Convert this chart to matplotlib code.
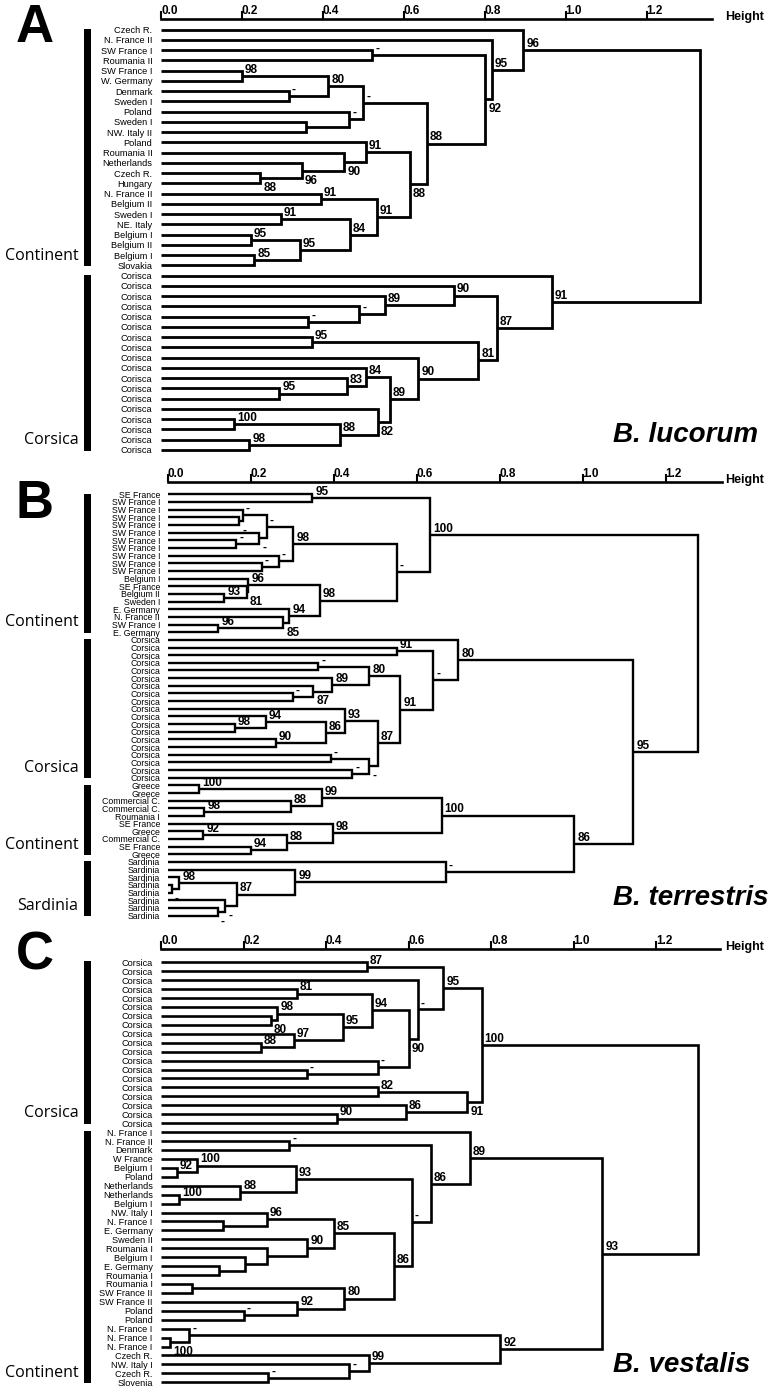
import matplotlib
matplotlib.use("Agg")
import matplotlib.pyplot as plt
from matplotlib.transforms import offset_copy, blended_transform_factory
from matplotlib.patches import Rectangle

plt.rcParams['font.family'] = ['Liberation Sans', 'DejaVu Sans']

# ---------------------------------------------------------------- data
# merge children: leaf index (< 100) or 100 + k for merge number k
TICKS = [0.0, 0.2, 0.4, 0.6, 0.8, 1.0, 1.2]
TICK_LABELS = ["0.0", "0.2", "0.4", "0.6", "0.8", "1.0", "1.2"]

# ---- Panel A : B. lucorum
A_leaves = ["Czech R.", "N. France II", "SW France I", "Roumania II", "SW France I",
            "W. Germany", "Denmark", "Sweden I", "Poland", "Sweden I", "NW. Italy II",
            "Poland", "Roumania II", "Netherlands", "Czech R.", "Hungary", "N. France II",
            "Belgium II", "Sweden I", "NE. Italy", "Belgium I", "Belgium II", "Belgium I",
            "Slovakia"] + ["Corisca"] * 18
A_left = [4, 6, 100, 9, 8, 102, 2, 14, 13, 12, 11, 16, 18, 20, 22, 113, 112, 111, 110,
          105, 106, 1, 0, 28, 27, 26, 25, 30, 35, 34, 33, 38, 40, 131, 37, 130, 32, 127,
          126, 24, 122]
A_right = [5, 7, 101, 10, 103, 104, 3, 15, 107, 108, 109, 17, 19, 21, 23, 114, 115, 116,
           117, 118, 119, 120, 121, 29, 123, 124, 125, 31, 36, 128, 129, 39, 41, 132, 133,
           134, 135, 136, 137, 138, 139]
A_height = [0.199, 0.316, 0.413, 0.358, 0.465, 0.500, 0.522, 0.245, 0.348, 0.453, 0.506,
            0.395, 0.296, 0.222, 0.230, 0.343, 0.467, 0.533, 0.615, 0.657, 0.801, 0.817,
            0.895, 0.364, 0.490, 0.553, 0.724, 0.372, 0.292, 0.459, 0.506, 0.181, 0.218,
            0.442, 0.535, 0.566, 0.636, 0.784, 0.830, 0.965, 1.332]
A_support = ["98", "-", "80", "", "-", "-", "-", "88", "96", "90", "91", "91", "91", "95",
             "85", "95", "84", "91", "88", "88", "92", "95", "96", "-", "-", "89", "90",
             "95", "95", "83", "84", "100", "98", "88", "82", "89", "90", "81", "87", "91", ""]
A_groups = ["Continent", "Corsica"]
A_group_start = [0, 24]
A_group_end = [23, 41]

# ---- Panel B : B. terrestris
B_leaves = (["SE France"] + ["SW France I"] * 10 +
            ["Belgium I", "SE France", "Belgium II", "Sweden I", "E. Germany",
             "N. France II", "SW France I", "E. Germany"] + ["Corsica"] * 19 +
            ["Greece", "Greece", "Commercial C.", "Commercial C.", "Roumania I",
             "SE France", "Greece", "Commercial C.", "SE France", "Greece"] +
            ["Sardinia"] * 8)
B_left = [0, 3, 2, 6, 5, 102, 9, 8, 105, 13, 12, 11, 17, 16, 15, 111, 108, 100, 20, 22,
          26, 25, 24, 119, 30, 29, 32, 125, 28, 34, 36, 129, 128, 123, 118, 19, 38, 41,
          40, 136, 44, 46, 140, 43, 139, 51, 50, 54, 53, 146, 49, 48, 144, 135, 117]
B_right = [1, 4, 101, 7, 103, 104, 10, 106, 107, 14, 109, 110, 18, 112, 113, 114, 115,
           116, 21, 23, 27, 120, 121, 122, 31, 124, 33, 126, 127, 35, 37, 130, 131, 132,
           133, 134, 39, 42, 137, 138, 45, 47, 141, 142, 143, 52, 145, 55, 147, 148, 149,
           150, 151, 152, 153]
B_height = [0.348, 0.173, 0.181, 0.165, 0.221, 0.239, 0.227, 0.267, 0.303, 0.136, 0.190,
            0.194, 0.122, 0.279, 0.293, 0.367, 0.552, 0.632, 0.552, 0.363, 0.301, 0.351,
            0.397, 0.486, 0.162, 0.236, 0.261, 0.381, 0.427, 0.393, 0.445, 0.486, 0.506,
            0.560, 0.640, 0.700, 0.075, 0.088, 0.297, 0.371, 0.086, 0.200, 0.287, 0.398,
            0.660, 0.010, 0.028, 0.121, 0.139, 0.166, 0.307, 0.670, 0.980, 1.122, 1.279]
B_support = ["95", "-", "-", "-", "-", "-", "-", "-", "98", "93", "81", "96", "96", "85",
             "94", "98", "-", "100", "91", "-", "-", "87", "89", "80", "98", "94", "90",
             "86", "93", "-", "-", "-", "87", "91", "-", "80", "100", "98", "88", "99",
             "92", "94", "88", "98", "100", "-", "98", "-", "-", "87", "99", "-", "86",
             "95", ""]
B_groups = ["Continent", "Corsica", "Continent", "Sardinia"]
B_group_start = [0, 19, 38, 48]
B_group_end = [18, 37, 47, 55]

# ---- Panel C : B. vestalis
C_leaves = ["Corsica"] * 19 + [
    "N. France I", "N. France II", "Denmark", "W France", "Belgium I", "Poland",
    "Netherlands", "Netherlands", "Belgium I", "NW. Italy I", "N. France I", "E. Germany",
    "Sweden II", "Roumania I", "Belgium I", "E. Germany", "Roumania I", "Roumania I",
    "SW France II", "SW France II", "Poland", "Poland", "N. France I", "N. France I",
    "N. France I", "Czech R.", "NW. Italy I", "Czech R.", "Slovenia"]
C_left = [0, 3, 6, 5, 9, 8, 103, 101, 12, 11, 107, 2, 100, 14, 17, 16, 113, 112, 20, 23,
          22, 26, 25, 120, 29, 28, 34, 33, 32, 31, 125, 36, 39, 38, 131, 130, 123, 118,
          19, 42, 41, 46, 45, 44, 140, 138, 117]
C_right = [1, 4, 7, 102, 10, 104, 105, 106, 13, 108, 109, 110, 111, 15, 18, 114, 115,
           116, 21, 24, 119, 27, 121, 122, 30, 124, 35, 126, 127, 128, 129, 37, 40, 132,
           133, 134, 135, 136, 137, 43, 139, 47, 141, 142, 143, 144, 145]
C_height = [0.499, 0.329, 0.266, 0.282, 0.242, 0.322, 0.440, 0.511, 0.353, 0.525, 0.600,
            0.622, 0.684, 0.525, 0.426, 0.594, 0.743, 0.777, 0.311, 0.038, 0.087, 0.044,
            0.192, 0.327, 0.150, 0.256, 0.141, 0.204, 0.256, 0.355, 0.419, 0.074, 0.200,
            0.330, 0.444, 0.565, 0.608, 0.654, 0.749, 0.022, 0.069, 0.260, 0.456, 0.504,
            0.823, 1.070, 1.303]
C_support = ["87", "81", "80", "98", "88", "97", "95", "94", "-", "-", "90", "-", "95",
             "82", "90", "86", "91", "100", "-", "92", "100", "100", "88", "93", "", "96",
             "", "", "", "90", "85", "", "-", "92", "80", "86", "-", "86", "89", "100",
             "-", "-", "-", "99", "92", "93", ""]
C_groups = ["Corsica", "Continent"]
C_group_start = [0, 19]
C_group_end = [18, 47]

# ---------------------------------------------------------------- style
# merges whose support value sits below the node line (others sit above)
A_below = {7, 8, 9, 18, 20, 34}
B_below = {1, 4, 10, 13, 21, 31, 45, 47, 48}
C_below = {2, 10, 16, 39}

W, H = 778, 1390
fig = plt.figure(figsize=(W / 100, H / 100), dpi=100)
fig.patch.set_facecolor('white')

# layout (pixels): x of height 0, px per unit, xmax, spine y, first leaf y, leaf step
PANELS = [
    dict(x0=161.0, sx=404.7, xmax=1.361, spine=19.0, y0=29.7, dy=10.25, lw=2.0,
         leaf_fs=6.7, leaf_pad=6.2, hpad=9.6),
    dict(x0=167.7, sx=415.0, xmax=1.335, spine=481.7, y0=494.3, dy=7.66, lw=1.7,
         leaf_fs=6.3, leaf_pad=5.5, hpad=2.4),
    dict(x0=161.0, sx=412.5, xmax=1.355, spine=949.0, y0=962.3, dy=8.936, lw=1.9,
         leaf_fs=6.6, leaf_pad=6.0, hpad=3.6),
]


def draw_panel(cfg, leaves, left, right, heights, support, below_set,
               groups, gstart, gend):
    n = len(leaves)
    ytop = -(cfg['y0'] - cfg['spine']) / cfg['dy']
    ybot = n - 1 + 0.8
    bottom_px = cfg['y0'] + ybot * cfg['dy']
    ax = fig.add_axes([cfg['x0'] / W, 1 - bottom_px / H,
                       cfg['xmax'] * cfg['sx'] / W, (bottom_px - cfg['spine']) / H])
    ax.set_xlim(0, cfg['xmax'])
    ax.set_ylim(ybot, ytop)
    ax.patch.set_visible(False)
    for s in ('left', 'right', 'bottom'):
        ax.spines[s].set_visible(False)
    ax.spines['top'].set_linewidth(1.9)
    ax.xaxis.tick_top()
    ax.set_xticks(TICKS)
    ax.set_xticklabels(TICK_LABELS, fontweight='bold', fontsize=8.5, ha='left')
    ax.tick_params(axis='x', direction='out', length=5.5, width=1.5, pad=-4.2)
    ax.set_yticks(range(n))
    ax.set_yticklabels(leaves, fontsize=cfg['leaf_fs'])
    ax.tick_params(axis='y', length=0, pad=cfg['leaf_pad'])

    above_tr = offset_copy(ax.transData, fig=fig, x=2.2, y=2.3, units='points')
    below_tr = offset_copy(ax.transData, fig=fig, x=2.2, y=-9.3, units='points')
    pos = {i: (0.0, float(i)) for i in range(n)}
    for k in range(len(left)):
        hl, yl = pos[left[k]]
        hr, yr = pos[right[k]]
        h = heights[k]
        ax.plot([hl, h, h, hr], [yl, yl, yr, yr], color='black', lw=cfg['lw'],
                solid_joinstyle='miter', solid_capstyle='butt', clip_on=False)
        ym = (yl + yr) / 2
        pos[100 + k] = (h, ym)
        if support[k]:
            ax.text(h, ym, support[k],
                    transform=below_tr if k in below_set else above_tr,
                    fontsize=8.5, fontweight='bold', ha='left', va='baseline')

    btr = blended_transform_factory(fig.transFigure, ax.transData)
    lab_tr = offset_copy(btr, fig=fig, y=7, units='points')
    for name, a, b in zip(groups, gstart, gend):
        ax.add_patch(Rectangle((84 / W, a - 0.1), 7 / W, (b - a) + 0.2,
                               transform=btr, facecolor='black', edgecolor='none',
                               clip_on=False))
        ax.text(78.5 / W, b, name, transform=lab_tr, ha='right', va='center',
                fontsize=11.5, family=['Open Sans', 'DejaVu Sans'])

    ax.annotate('Height', xy=(1, 1), xycoords='axes fraction',
                xytext=(cfg['hpad'], -1.0), textcoords='offset points',
                ha='left', va='baseline', fontweight='bold', fontsize=9)
    return ax


draw_panel(PANELS[0], A_leaves, A_left, A_right, A_height, A_support, A_below,
           A_groups, A_group_start, A_group_end)
draw_panel(PANELS[1], B_leaves, B_left, B_right, B_height, B_support, B_below,
           B_groups, B_group_start, B_group_end)
draw_panel(PANELS[2], C_leaves, C_left, C_right, C_height, C_support, C_below,
           C_groups, C_group_start, C_group_end)

# panel letters and species names
for letter, ypx in (("A", 41.7), ("B", 518.0), ("C", 970.0)):
    fig.text(15.5 / W, 1 - ypx / H, letter, fontsize=38, fontweight='bold',
             ha='left', va='baseline')
for name, ypx in (("B. lucorum", 441.7), ("B. terrestris", 905.0), ("B. vestalis", 1371.7)):
    fig.text(613 / W, 1 - ypx / H, name, fontsize=20, fontweight='bold',
             style='italic', ha='left', va='baseline')

fig.savefig("out.png", dpi=100, facecolor='white')
